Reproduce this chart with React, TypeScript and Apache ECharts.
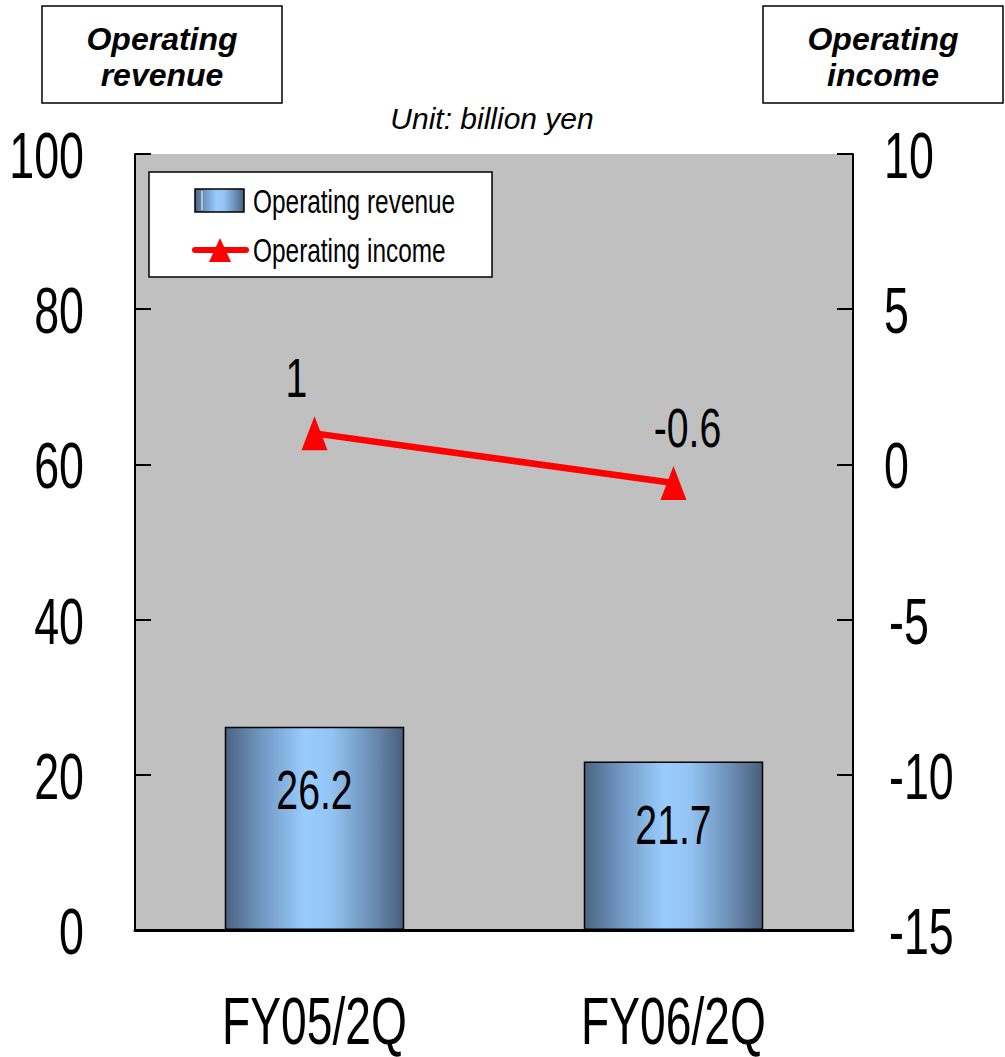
import React, { useEffect, useRef } from "react";
import * as echarts from "echarts";

// Half-year results, billion yen
const categories = ["FY05/2Q", "FY06/2Q"];
const revenueValues = [26.2, 21.7];
const incomeValues = [1, -0.6];
const leftTicks = [0, 20, 40, 60, 80, 100];
const rightTicks = [-15, -10, -5, 0, 5, 10];

const FONT = "'Liberation Sans', Arial, sans-serif";
const NARROW = 0.7;

const barFill = () =>
  new echarts.graphic.LinearGradient(0, 0, 1, 0, [
    { offset: 0, color: "#4b6483" },
    { offset: 0.2, color: "#7197c2" },
    { offset: 0.45, color: "#9acdff" },
    { offset: 0.6, color: "#92c3f3" },
    { offset: 0.85, color: "#6787ac" },
    { offset: 1, color: "#485e7c" },
  ]);

const narrowText = (
  text: string,
  x: number,
  y: number,
  fontSize: number,
  align: string,
  scaleX: number = NARROW,
  extra: any = {}
) => ({
  type: "text",
  x,
  y,
  scaleX,
  z: 100,
  silent: true,
  style: {
    text,
    fontSize,
    fontFamily: FONT,
    fill: "#000",
    align,
    verticalAlign: "middle",
    ...extra,
  },
});

export default function App() {
  const ref = useRef<HTMLDivElement>(null);

  useEffect(() => {
    document.body.style.margin = "0";
    const chart = echarts.init(ref.current!, null, { renderer: "svg" });

    chart.setOption({
      animation: false,
      backgroundColor: "#ffffff",
      grid: {
        left: 135,
        right: 152,
        top: 154,
        bottom: 127,
        show: true,
        backgroundColor: "#c0c0c0",
        borderWidth: 0,
      },
      xAxis: {
        type: "category",
        data: categories,
        axisLine: { onZero: false, lineStyle: { color: "#000", width: 3 } },
        axisTick: { inside: true, length: 22, lineStyle: { color: "#000", width: 1.5 } },
        axisLabel: { show: false },
        splitLine: { show: false },
      },
      yAxis: [
        {
          type: "value",
          min: 0,
          max: 100,
          interval: 20,
          position: "left",
          axisLine: { show: true, lineStyle: { color: "#000", width: 2 } },
          axisTick: { show: true, inside: true, length: 16, lineStyle: { color: "#000", width: 2 } },
          axisLabel: { show: false },
          splitLine: { show: false },
        },
        {
          type: "value",
          min: -15,
          max: 10,
          interval: 5,
          position: "right",
          axisLine: { show: true, lineStyle: { color: "#000", width: 2 } },
          axisTick: { show: true, inside: true, length: 16, lineStyle: { color: "#000", width: 2 } },
          axisLabel: { show: false },
          splitLine: { show: false },
        },
      ],
      series: [
        {
          name: "Operating revenue",
          type: "bar",
          yAxisIndex: 0,
          barWidth: "50%",
          data: revenueValues,
          itemStyle: { color: barFill(), borderColor: "#000", borderWidth: 1.5 },
        },
        {
          name: "Operating income",
          type: "line",
          yAxisIndex: 1,
          data: incomeValues,
          symbol: "triangle",
          symbolSize: [26, 34],
          lineStyle: { color: "#ff0000", width: 6.5 },
          itemStyle: { color: "#ff0000" },
          z: 5,
        },
      ],
    });

    const graphics: any[] = [];

    // Axis tick labels
    leftTicks.forEach((v) => {
      const y = chart.convertToPixel({ yAxisIndex: 0 }, v) as number;
      graphics.push(narrowText(String(v), 84, y + 2, 64, "right"));
    });
    rightTicks.forEach((v) => {
      const y = chart.convertToPixel({ yAxisIndex: 1 }, v) as number;
      graphics.push(narrowText(String(v), v < 0 ? 889 : 884, y + 2, 64, "left"));
    });
    categories.forEach((c) => {
      const x = chart.convertToPixel({ xAxisIndex: 0 }, c) as number;
      graphics.push(narrowText(c, x, 1021, 66, "center", NARROW, { lineHeight: 60 }));
    });

    // Value labels on the bars and line points
    revenueValues.forEach((v, i) => {
      const [x, y] = chart.convertToPixel({ seriesIndex: 0 }, [i, v]) as number[];
      graphics.push(narrowText(String(v), x, y + 63, 56, "center"));
    });
    const incomeLabelDx = [-18, 14];
    incomeValues.forEach((v, i) => {
      const [x, y] = chart.convertToPixel({ seriesIndex: 1 }, [i, v]) as number[];
      graphics.push(narrowText(String(v), x + incomeLabelDx[i], y - 56, 56, "center"));
    });

    // Axis caption boxes
    const captionBox = (x: number, lines: string[]) => {
      graphics.push({
        type: "rect",
        shape: { x, y: 6, width: 240, height: 97 },
        style: { fill: "#fff", stroke: "#000", lineWidth: 1.5 },
        z: 90,
      });
      lines.forEach((t, i) => {
        graphics.push({
          type: "text",
          x: x + 120,
          y: 39 + i * 36,
          z: 100,
          style: {
            text: t,
            fontSize: 32,
            fontWeight: "bold",
            fontStyle: "italic",
            fontFamily: FONT,
            fill: "#000",
            align: "center",
            verticalAlign: "middle",
          },
        });
      });
    };
    captionBox(42, ["Operating", "revenue"]);
    captionBox(763, ["Operating", "income"]);

    graphics.push({
      type: "text",
      x: 492,
      y: 118,
      z: 100,
      style: {
        text: "Unit: billion yen",
        fontSize: 30,
        fontStyle: "italic",
        fontFamily: FONT,
        fill: "#000",
        align: "center",
        verticalAlign: "middle",
      },
    });

    // Legend
    graphics.push({
      type: "rect",
      shape: { x: 149, y: 172, width: 343, height: 105 },
      style: { fill: "#fff", stroke: "#000", lineWidth: 1.5 },
      z: 90,
    });
    graphics.push({
      type: "rect",
      shape: { x: 195, y: 189, width: 49, height: 23 },
      style: { fill: barFill(), stroke: "#000", lineWidth: 1.5 },
      z: 95,
    });
    graphics.push({
      type: "line",
      shape: { x1: 202, y1: 191, x2: 202, y2: 210 },
      style: { stroke: "#fff", lineWidth: 1 },
      z: 96,
    });
    graphics.push(narrowText("Operating revenue", 253, 202, 33, "left", 0.74));
    graphics.push({
      type: "line",
      shape: { x1: 195, y1: 250, x2: 246, y2: 250 },
      style: { stroke: "#ff0000", lineWidth: 6, lineCap: "round" },
      z: 95,
    });
    graphics.push({
      type: "polygon",
      shape: { points: [[220, 238], [231, 262], [209, 262]] },
      style: { fill: "#ff0000" },
      z: 96,
    });
    graphics.push(narrowText("Operating income", 253, 251, 33, "left", 0.74));

    chart.setOption({ graphic: graphics });

    return () => chart.dispose();
  }, []);

  return <div ref={ref} style={{ width: 1005, height: 1057 }} />;
}
